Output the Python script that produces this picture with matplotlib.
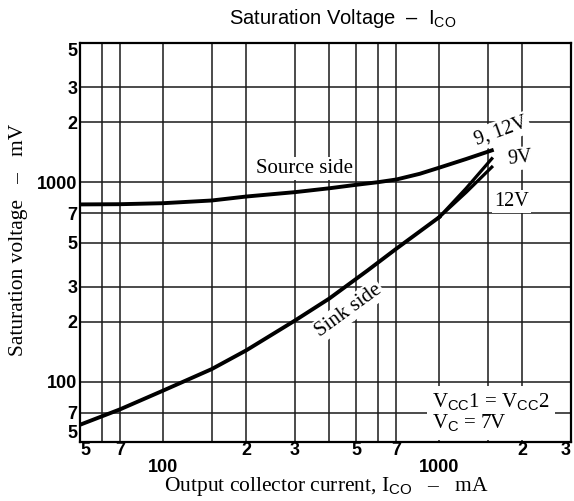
import matplotlib
matplotlib.use("Agg")
import matplotlib.pyplot as plt

plt.rcParams['font.family'] = ['Liberation Serif', 'DejaVu Serif']
plt.rcParams['mathtext.fontset'] = 'custom'
plt.rcParams['mathtext.rm'] = 'Liberation Serif'
plt.rcParams['mathtext.sf'] = 'Liberation Sans'

# data (mA -> mV)
source_i = [50, 70, 100, 150, 200, 300, 400, 500, 600, 700, 850, 1000, 1250, 1550]
source_v = [776, 778, 787, 812, 850, 894, 935, 973, 1003, 1035, 1105, 1186, 1310, 1448]

sink_i = [50, 70, 100, 150, 200, 300, 400, 550, 700, 1000]
sink_v = [61, 73, 90.5, 116, 144, 203, 262, 362, 466, 670]

sink9_i = [1000, 1250, 1550]
sink9_v = [670, 933, 1316]
sink12_i = [1000, 1250, 1550]
sink12_v = [670, 891, 1194]

x_grid = [60, 70, 100, 150, 200, 300, 400, 500, 600, 700, 1000, 1500, 2000]
y_grid = [70, 100, 200, 300, 500, 700, 1000, 2000, 3000]

x_major = [100, 1000]
x_major_lbl = ["100", "1000"]
x_minor = [50, 70, 200, 300, 500, 700, 2000, 3000]
x_minor_lbl = ["5", "7", "2", "3", "5", "7", "2", "3"]
y_major = [100, 1000]
y_major_lbl = ["100", "1000"]
y_minor = [50, 70, 200, 300, 500, 700, 2000, 3000, 5000]
y_minor_lbl = ["5", "7", "2", "3", "5", "7", "2", "3", "5"]

fig = plt.figure(figsize=(5.74, 5.01), dpi=100)
ax = fig.add_axes([80 / 574, 59 / 501, 491 / 574, 399 / 501])
ax.set_xscale('log')
ax.set_yscale('log')
ax.set_xlim(50, 3000)
ax.set_ylim(50, 5000)

for xv in x_grid:
    ax.axvline(xv, color='#1a1a1a', lw=1.1, zorder=1)
for yv in y_grid:
    ax.axhline(yv, color='#1a1a1a', lw=1.1, zorder=1)

for s in ax.spines.values():
    s.set_linewidth(1.6)

ax.plot(source_i, source_v, color='black', lw=2.8, zorder=3)
ax.plot(sink_i, sink_v, color='black', lw=2.8, zorder=3)
ax.plot(sink9_i, sink9_v, color='black', lw=2.3, zorder=3)
ax.plot(sink12_i, sink12_v, color='black', lw=2.3, zorder=3)

tick_font = dict(family=['Liberation Sans Narrow', 'Liberation Sans', 'DejaVu Sans'],
                 weight='bold', size=13)
ax.set_xticks(x_major, x_major_lbl, **tick_font)
ax.set_xticks(x_minor, x_minor_lbl, minor=True, **tick_font)
ax.set_yticks(y_major, y_major_lbl, **tick_font)
ax.set_yticks(y_minor, y_minor_lbl, minor=True, **tick_font)
ax.tick_params(axis='both', which='both', length=0)
ax.tick_params(axis='x', which='major', pad=12)
ax.tick_params(axis='x', which='minor', pad=0)
ax.tick_params(axis='y', which='both', pad=2)

# end labels sit inside the frame like on the original sheet
xl = ax.xaxis.get_minorticklabels()
xl[0].set_ha('left')
xl[-1].set_ha('right')
yl = ax.yaxis.get_minorticklabels()
yl[0].set_va('bottom')
yl[-1].set_va('top')

white = dict(facecolor='white', edgecolor='none', pad=1.5)
ax.text(324, 1176, "Source side", fontsize=15, ha='center', va='center',
        bbox=white, zorder=2)
ax.text(468, 227, "Sink side", fontsize=15, ha='center', va='center',
        rotation=36, bbox=white, zorder=2)
ax.text(1677, 1804, "9, 12V", fontsize=14.5, ha='center', va='center',
        rotation=20, bbox=white, zorder=2)
ax.text(1966, 1320, "9V", fontsize=14.5, ha='center', va='center',
        rotation=6, bbox=white, zorder=2)
ax.text(1823, 803, "12V", fontsize=14.5, ha='center', va='center',
        bbox=white, zorder=2)
ax.text(0.717, 0.073, "V$_{\\mathsf{CC}}$1 = V$_{\\mathsf{CC}}$2\nV$_{\\mathsf{C}}$ = 7V",
        transform=ax.transAxes, fontsize=15, ha='left', va='center',
        linespacing=1.0,
        bbox=dict(facecolor='white', edgecolor='none', boxstyle='square,pad=0.25'),
        zorder=4)

fig.text(343 / 574, 1 - 19 / 501, "Saturation Voltage  –  I$_{\\mathsf{CO}}$",
         family=['Liberation Sans', 'DejaVu Sans'], fontsize=14.5,
         ha='center', va='center')
fig.text(326 / 574, 1 - 487 / 501, "Output collector current, I$_{\\mathsf{CO}}$   –   mA",
         fontsize=15.5, ha='center', va='center')
fig.text(19 / 574, 1 - 240 / 501, "Saturation voltage   –   mV",
         fontsize=15.5, ha='center', va='center', rotation=90)

fig.savefig("out.png", dpi=100)
